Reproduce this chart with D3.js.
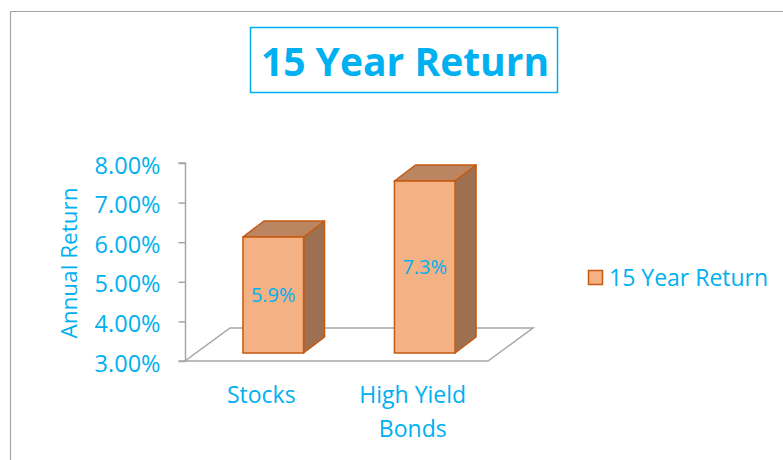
<!DOCTYPE html>
<html>
<head>
<meta charset="utf-8">
<script src="https://cdn.jsdelivr.net/npm/d3@7"></script>
<style>
  body { margin: 0; background: #fff; }
  text { font-family: "Open Sans", sans-serif; }
</style>
</head>
<body>
<div id="chart"></div>
<script>
var categories = ["Stocks", "High Yield Bonds"];
var values = [5.9, 7.3];
var tickValues = [3, 4, 5, 6, 7, 8];
var seriesName = "15 Year Return";
var chartTitle = "15 Year Return";
var yTitle = "Annual Return";

var width = 783, height = 460;
var blue = "#00B0F0";

var svg = d3.select("#chart").append("svg")
  .attr("width", width)
  .attr("height", height);

// chart area frame
svg.append("path")
  .attr("d", "M10.5,470 V11.5 H800")
  .attr("fill", "none")
  .attr("stroke", "#A6A6A6")
  .attr("stroke-width", 1.2);

// title box
svg.append("rect")
  .attr("x", 250.5).attr("y", 27.5)
  .attr("width", 307).attr("height", 65)
  .attr("fill", "#fff")
  .attr("stroke", blue)
  .attr("stroke-width", 1.5);
svg.append("text")
  .attr("x", 405).attr("y", 76)
  .attr("text-anchor", "middle")
  .attr("font-size", 39)
  .attr("font-weight", "bold")
  .attr("fill", blue)
  .text(chartTitle);

// axis scale (on the back wall line) and bar scale (front faces)
var y_axis = d3.scaleLinear().domain([3, 8]).range([361, 163]);
var y_bar = d3.scaleLinear().domain([3, 8]).range([353, 153]);

var x_scale = d3.scaleBand()
  .domain(categories)
  .range([197.5, 500.5])
  .paddingInner(0.6)
  .paddingOuter(0.3);

var floorDx = 45, floorDy = -33;
var barDx = 21, barDy = -16;

// floor
var fl = 185, fr = 488, fy = y_axis(3);
svg.append("path")
  .attr("d", "M" + fl + "," + fy + " L" + fr + "," + fy +
    " L" + (fr + floorDx) + "," + (fy + floorDy) +
    " L" + (fl + floorDx) + "," + (fy + floorDy) + " Z")
  .attr("fill", "none")
  .attr("stroke", "#A6A6A6")
  .attr("stroke-width", 1.5);

// y axis
var axis = svg.append("g")
  .attr("transform", "translate(185.5,0)")
  .call(d3.axisLeft(y_axis)
    .tickValues(tickValues)
    .tickSize(7)
    .tickFormat(function(d) { return d.toFixed(2) + "%"; }));
axis.select(".domain").attr("stroke", "#A6A6A6").attr("stroke-width", 1.5)
  .attr("d", "M-7," + y_axis(8) + "H0V" + y_axis(3) + "H-7");
axis.selectAll(".tick line").attr("stroke", "#A6A6A6").attr("stroke-width", 1.5);
axis.selectAll(".tick text")
  .attr("x", -25)
  .attr("dy", 10)
  .attr("font-size", 23.5)
  .attr("font-family", "'Open Sans', sans-serif")
  .attr("fill", blue);

// y title
svg.append("text")
  .attr("transform", "translate(77,263) rotate(-90)")
  .attr("text-anchor", "middle")
  .attr("font-size", 22.5)
  .attr("fill", blue)
  .text(yTitle);

// bars
var bars = svg.selectAll(".bar")
  .data(values)
  .enter().append("g")
  .attr("class", "bar");

var stroke = "#C55A11";

bars.append("path") // side
  .attr("d", function(d, i) {
    var x1 = x_scale(categories[i]) + x_scale.bandwidth();
    var yt = y_bar(d), yb = y_bar(3);
    return "M" + x1 + "," + yt + " L" + (x1 + barDx) + "," + (yt + barDy) +
      " L" + (x1 + barDx) + "," + (yb + barDy) + " L" + x1 + "," + yb + " Z";
  })
  .attr("fill", "#9C7050")
  .attr("stroke", stroke)
  .attr("stroke-width", 1.5)
  .attr("stroke-linejoin", "round");

bars.append("path") // top
  .attr("d", function(d, i) {
    var x0 = x_scale(categories[i]), x1 = x0 + x_scale.bandwidth();
    var yt = y_bar(d);
    return "M" + x0 + "," + yt + " L" + (x0 + barDx) + "," + (yt + barDy) +
      " L" + (x1 + barDx) + "," + (yt + barDy) + " L" + x1 + "," + yt + " Z";
  })
  .attr("fill", "#BA8560")
  .attr("stroke", stroke)
  .attr("stroke-width", 1.5)
  .attr("stroke-linejoin", "round");

bars.append("rect") // front
  .attr("x", function(d, i) { return x_scale(categories[i]); })
  .attr("y", function(d) { return y_bar(d); })
  .attr("width", x_scale.bandwidth())
  .attr("height", function(d) { return y_bar(3) - y_bar(d); })
  .attr("fill", "#F4B183")
  .attr("stroke", stroke)
  .attr("stroke-width", 1.5);

bars.append("text")
  .attr("x", function(d, i) { return x_scale(categories[i]) + x_scale.bandwidth() / 2; })
  .attr("y", function(d) { return (y_bar(d) + y_bar(3)) / 2 + 7; })
  .attr("text-anchor", "middle")
  .attr("font-size", 20)
  .attr("fill", blue)
  .text(function(d) { return d.toFixed(1) + "%"; });

// category labels
var catLabels = svg.selectAll(".cat")
  .data(categories)
  .enter().append("text")
  .attr("class", "cat")
  .attr("text-anchor", "middle")
  .attr("font-size", 23)
  .attr("fill", blue);
catLabels.each(function(d) {
  var words = d === "High Yield Bonds" ? ["High Yield", "Bonds"] : [d];
  var cx = x_scale(d) + x_scale.bandwidth() / 2 - 12;
  var t = d3.select(this);
  words.forEach(function(w, j) {
    t.append("tspan").attr("x", cx).attr("y", 403 + j * 34).text(w);
  });
});

// legend
var legend = svg.append("g").attr("transform", "translate(588,270)");
legend.append("rect")
  .attr("x", 0.5).attr("y", 0.5)
  .attr("width", 14).attr("height", 14)
  .attr("fill", "#F4B183")
  .attr("stroke", stroke)
  .attr("stroke-width", 1.5);
legend.append("text")
  .attr("x", 21).attr("y", 16)
  .attr("font-size", 23)
  .attr("fill", blue)
  .text(seriesName);
</script>
</body>
</html>
